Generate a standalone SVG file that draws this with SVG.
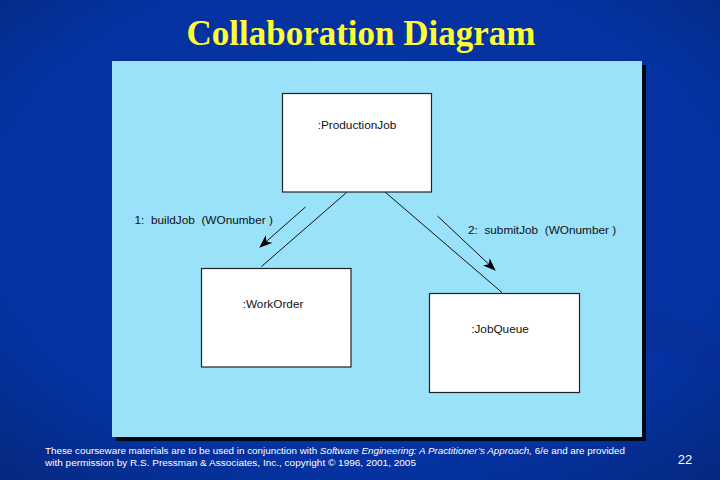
<svg xmlns="http://www.w3.org/2000/svg" width="720" height="480" viewBox="0 0 720 480">
<defs>
<radialGradient id="bg" cx="0.5" cy="0.45" r="0.75">
<stop offset="0" stop-color="#0638a6"/>
<stop offset="0.7" stop-color="#0432a0"/>
<stop offset="1" stop-color="#06287e"/>
</radialGradient>
<marker id="arr" viewBox="0 0 13 10" refX="12" refY="5" markerWidth="13" markerHeight="10" markerUnits="userSpaceOnUse" orient="auto">
<path d="M0,0 L13,5 L0,10 L3.5,5 Z" fill="#000"/>
</marker>
<style>
.box{fill:#fff;stroke:#222;stroke-width:1.2}
.lbl{font-family:"Liberation Sans",Arial,sans-serif;font-size:11.8px;fill:#111}
.conn{stroke:#111;stroke-width:1;fill:none}
.foot{font-family:"Liberation Sans",Arial,sans-serif;font-size:9.6px;fill:#fff}
</style>
</defs>
<rect x="0" y="0" width="720" height="480" fill="url(#bg)"/>
<path d="M560,330 C640,300 720,320 720,360 L720,380 C690,350 620,345 560,330 Z" fill="#0a2f96" opacity="0.6"/>
<text x="361" y="45" text-anchor="middle" font-family="'Liberation Serif','Times New Roman',serif" font-weight="bold" font-size="35" fill="#ffff33">Collaboration Diagram</text>
<rect x="116" y="65" width="530" height="376" fill="#000814"/>
<rect x="112" y="61" width="530" height="376" fill="#99e2fa"/>
<g id="connectors">
<line class="conn" x1="346.5" y1="192.5" x2="261.5" y2="266.5"/>
<line class="conn" x1="385" y1="192" x2="502" y2="292.5"/>
<line class="conn" x1="305.5" y1="207" x2="260" y2="247" marker-end="url(#arr)"/>
<line class="conn" x1="437.5" y1="216" x2="495" y2="270" marker-end="url(#arr)"/>
<text class="lbl" x="134.5" y="224" xml:space="preserve">1:  buildJob  (WOnumber )</text>
<text class="lbl" x="468" y="234" xml:space="preserve">2:  submitJob  (WOnumber )</text>
</g>
<g id="productionjob">
<rect class="box" x="282.5" y="93.5" width="149" height="98.5"/>
<text class="lbl" x="357" y="129" text-anchor="middle">:ProductionJob</text>
</g>
<g id="workorder">
<rect class="box" x="201.5" y="268.5" width="149.5" height="98.5"/>
<text class="lbl" x="273" y="308" text-anchor="middle">:WorkOrder</text>
</g>
<g id="jobqueue">
<rect class="box" x="429.5" y="293.5" width="150" height="99"/>
<text class="lbl" x="500" y="333" text-anchor="middle">:JobQueue</text>
</g>
<text class="foot" x="45" y="454" textLength="580" lengthAdjust="spacingAndGlyphs">These courseware materials are to be used in conjunction with <tspan font-style="italic">Software Engineering: A Practitioner’s Approach,</tspan> 6/e and are provided</text>
<text class="foot" x="45" y="466" textLength="371" lengthAdjust="spacingAndGlyphs">with permission by R.S. Pressman &amp; Associates, Inc., copyright © 1996, 2001, 2005</text>
<text x="685" y="464" text-anchor="middle" font-family="'Liberation Sans',Arial,sans-serif" font-size="13" fill="#fff">22</text>
</svg>
